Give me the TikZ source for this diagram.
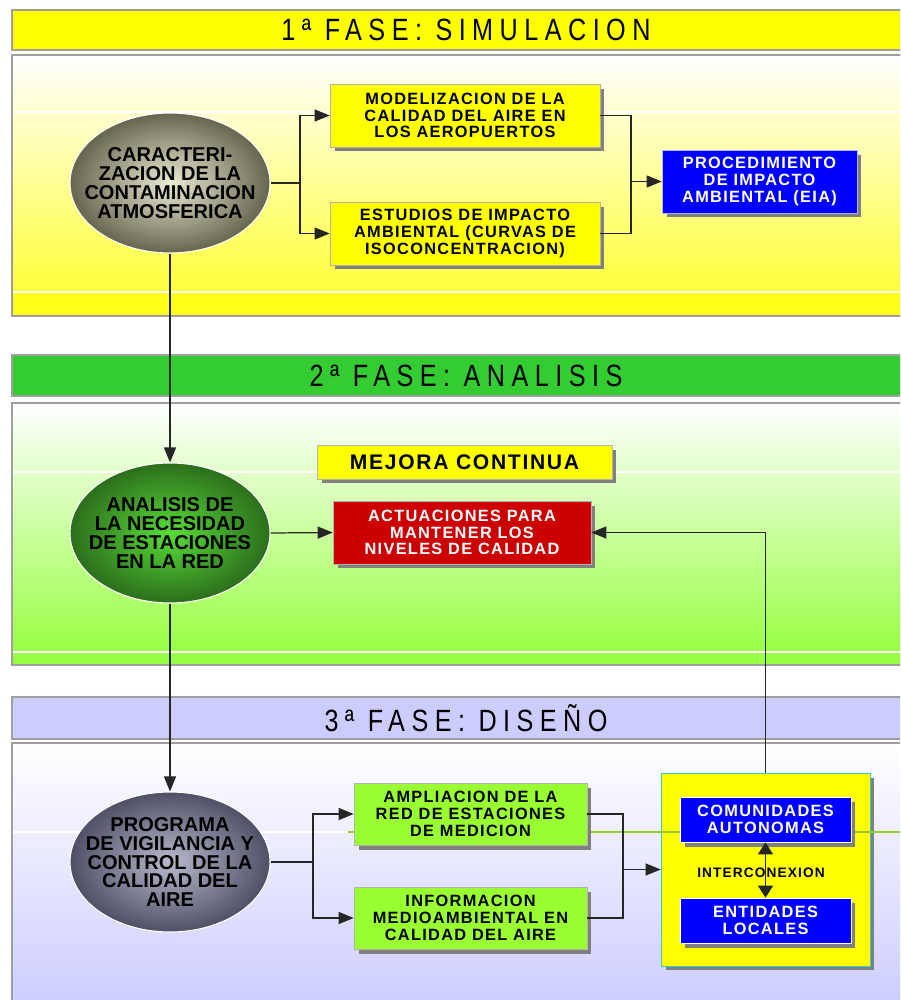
\documentclass[tikz,border=0pt]{standalone}
\usepackage{fontspec}
\setmainfont{Liberation Sans}
\newfontfamily\cajafont[LetterSpace=8]{Liberation Sans}
\newfontfamily\fasefont[LetterSpace=21, FakeStretch=0.82]{Liberation Sans}
\usepackage{xcolor}
\usepackage{tikz}
\usetikzlibrary{arrows.meta}
\usetikzlibrary{positioning}
\usetikzlibrary{shapes.geometric}
\usetikzlibrary{shadows}

\definecolor{amarillo}{HTML}{FFFF00}
\definecolor{amarillofondo}{HTML}{FFFF3A}
\definecolor{verdeband}{HTML}{33CC33}
\definecolor{verdefondo}{HTML}{99FF44}
\definecolor{lilaband}{HTML}{CCCCFF}
\definecolor{azul}{HTML}{0000FF}
\definecolor{rojo}{HTML}{CC0000}
\definecolor{verdecaja}{HTML}{99FF33}
\definecolor{sombra}{HTML}{808080}
\definecolor{turquesa}{HTML}{33CCCC}
\definecolor{oliva1}{HTML}{ECECD4}
\definecolor{oliva2}{HTML}{66664F}
\definecolor{verde1}{HTML}{58DD38}
\definecolor{verde2}{HTML}{2C6E1C}
\definecolor{gris1}{HTML}{BABACE}
\definecolor{gris2}{HTML}{4F4F66}
\definecolor{lineaverde}{HTML}{99CC33}

\begin{document}
\begin{tikzpicture}[x=0.02cm, y=-0.02cm,
    fase/.style={draw=gray!75, line width=0.8pt},
    titulo/.style={font=\fasefont\fontsize{17.5}{20}\selectfont, text=black},
    elipse/.style={ellipse, draw=white, line width=0.6pt, minimum width=4cm, minimum height=2.8cm, inner sep=0pt},
    textoelipse/.style={align=center, inner sep=0pt, font=\bfseries\fontsize{11.4}{10.8}\selectfont},
    caja/.style={draw=gray!60, line width=0.4pt, inner sep=0pt, align=center, minimum height=1.26cm,
        font=\cajafont\bfseries\fontsize{9.3}{9.6}\selectfont,
        drop shadow={shadow xshift=0.09cm, shadow yshift=-0.09cm, fill=sombra, opacity=1}},
    linea/.style={draw=black!85, line width=0.7pt},
    flecha/.style={linea, -{Triangle[length=3mm, width=2.4mm]}}
]
\useasboundingbox (0,0) rectangle (900,1000);
\clip (0,0) rectangle (900,1000);

% Fase 1
\draw[fase, fill=amarillo] (12,10) rectangle (910,50);
\node[titulo] (fase1) at (466,30) {1ª FASE: SIMULACION};
\shade[top color=white, bottom color=amarillofondo] (12,55) rectangle (910,292);
\fill[amarillo!90!white] (12,292) rectangle (910,316);
\draw[white, line width=0.8pt] (12,112) -- (910,112);
\draw[white, line width=0.8pt] (12,292) -- (910,292);
\draw[fase] (12,55) rectangle (910,316);

% Fase 2
\draw[fase, fill=verdeband] (12,355) rectangle (910,396);
\node[titulo] (fase2) at (466,375.5) {2ª FASE: ANALISIS};
\shade[top color=white, bottom color=verdefondo] (12,403) rectangle (910,652);
\fill[verdefondo] (12,652) rectangle (910,665);
\draw[white, line width=0.8pt] (12,472) -- (910,472);
\draw[white, line width=0.8pt] (12,652) -- (910,652);
\draw[fase] (12,403) rectangle (910,665);

% Fase 3
\draw[fase, fill=lilaband] (12,697) rectangle (910,739);
\node[titulo] (fase3) at (466,718) {3ª FASE: DISEÑO};
\shade[top color=white, bottom color=lilaband] (12,743) rectangle (910,1010);
\draw[white, line width=0.8pt] (12,832) -- (910,832);
\draw[fase] (12,743) rectangle (910,1010);

% Nodos fase 1
\node[elipse, inner color=oliva1, outer color=oliva2] (carac) at (170,183) {};
\node[textoelipse] (carac-t) at (carac.center)
    {CARACTERI-\\ZACION DE LA\\CONTAMINACION\\ATMOSFERICA};
\node[caja, fill=amarillo, minimum width=5.4cm] (model) at (465,115.5)
    {MODELIZACION DE LA\\CALIDAD DEL AIRE EN\\LOS AEROPUERTOS};
\node[caja, fill=amarillo, minimum width=5.4cm] (estud) at (465,233.5)
    {ESTUDIOS DE IMPACTO\\AMBIENTAL (CURVAS DE\\ISOCONCENTRACION)};
\node[caja, fill=azul, draw=white!70!blue, text=white, minimum width=3.9cm] (proced) at (759.5,181.5)
    {PROCEDIMIENTO\\DE IMPACTO\\AMBIENTAL (EIA)};

% Nodos fase 2
\node[elipse, inner color=verde1, outer color=verde2] (analis) at (170,533) {};
\node[textoelipse] (analis-t) at (analis.center)
    {ANALISIS DE\\LA NECESIDAD\\DE ESTACIONES\\EN LA RED};
\node[caja, fill=amarillo, minimum width=5.9cm, minimum height=0.68cm,
    font=\cajafont\bfseries\fontsize{12}{14}\selectfont] (mejora) at (464.5,462) {MEJORA CONTINUA};
\node[caja, fill=rojo, text=white, minimum width=5.16cm] (actua) at (462,532.5)
    {ACTUACIONES PARA\\MANTENER LOS\\NIVELES DE CALIDAD};

% Nodos fase 3
\node[elipse, inner color=gris1, outer color=gris2] (progr) at (170,862) {};
\node[textoelipse] (progr-t) at (progr.center)
    {PROGRAMA\\DE VIGILANCIA Y\\CONTROL DE LA\\CALIDAD DEL\\AIRE};
\node[caja, fill=amarillo, draw=turquesa, minimum width=4.18cm, minimum height=3.86cm] (admin) at (765.5,869.5) {};
\draw[lineaverde, line width=0.6pt] (348,832) -- (910,832);
\node[caja, fill=verdecaja, minimum width=4.66cm, minimum height=1.24cm] (ampli) at (470.5,814)
    {AMPLIACION DE LA\\RED DE ESTACIONES\\DE MEDICION};
\node[caja, fill=verdecaja, minimum width=4.66cm, minimum height=1.24cm] (infor) at (470.5,918)
    {INFORMACION\\MEDIOAMBIENTAL EN\\CALIDAD DEL AIRE};
\node[caja, fill=azul, draw=white, text=white, minimum width=3.42cm, minimum height=0.9cm] (comun) at (765.5,819.5)
    {COMUNIDADES\\AUTONOMAS};
\node[caja, fill=azul, draw=white, text=white, minimum width=3.42cm, minimum height=0.9cm] (entid) at (765.5,920.5)
    {ENTIDADES\\LOCALES};
\node[font=\cajafont\bfseries\fontsize{7.8}{9}\selectfont] (interc) at (761,873) {INTERCONEXION};

% Conexiones
\coordinate (j1) at (300,183);
\coordinate (j2) at (631,181.5);
\coordinate (j3) at (313,862);
\coordinate (j4) at (623,869.5);
\draw[linea] (carac.east) -- (j1);
\draw[flecha] (j1) |- (model.west);
\draw[flecha] (j1) |- (estud.west);
\draw[linea] (model.east) -| (j2);
\draw[linea] (estud.east) -| (j2);
\draw[flecha] (j2) -- (proced.west);
\draw[flecha] (carac.south) -- (analis.north);
\draw[flecha] (analis.east) -- (actua.west);
\draw[flecha] (analis.south) -- (progr.north);
\draw[linea] (progr.east) -- (j3);
\draw[flecha] (j3) |- (ampli.west);
\draw[flecha] (j3) |- (infor.west);
\draw[linea] (ampli.east) -| (j4);
\draw[linea] (infor.east) -| (j4);
\draw[flecha] (j4) -- (admin.west);
\draw[flecha] (admin.north) |- (actua.east);
\draw[linea, {Triangle[length=2.4mm, width=3mm]}-{Triangle[length=2.4mm, width=3mm]}] (comun.south) -- (entid.north);

\end{tikzpicture}
\end{document}
